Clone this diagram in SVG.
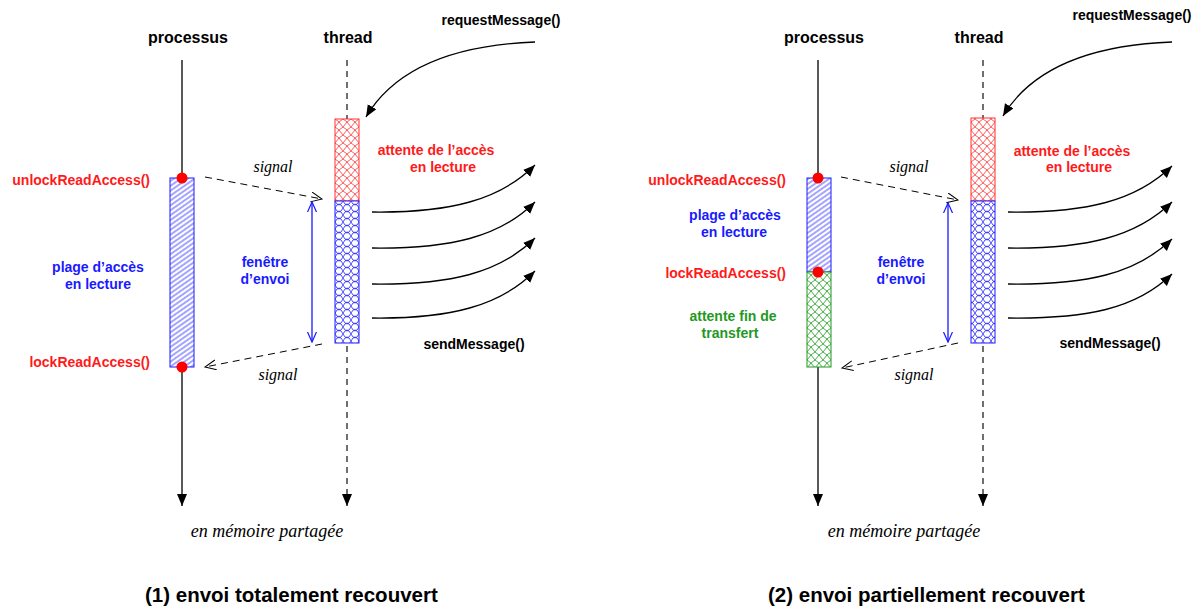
<svg xmlns="http://www.w3.org/2000/svg" width="1200" height="614" viewBox="0 0 1200 614">
<style>
.t{font-family:"Liberation Sans",Arial,Helvetica,sans-serif;font-weight:bold;font-size:14px}
.ti{font-family:"Liberation Sans",Arial,sans-serif;font-weight:bold;font-size:16px;fill:#000}
.cap{font-family:"Liberation Sans",Arial,sans-serif;font-weight:bold;font-size:20.5px;fill:#000}
.it{font-family:"Liberation Serif","Times New Roman",serif;font-style:italic;font-size:16px;fill:#000}
.itb{font-family:"Liberation Serif","Times New Roman",serif;font-style:italic;font-size:18px;fill:#000}
.red{fill:#ff1a1a}.blue{fill:#1a1aff}.green{fill:#1f991f}.blk{fill:#000}
.pline{stroke:#222;stroke-width:1.5;fill:none}
.tline{stroke:#222;stroke-width:1.3;stroke-dasharray:6,5;fill:none}
.sig{stroke:#000;stroke-width:1;stroke-dasharray:7,5;fill:none}
.curve{stroke:#000;stroke-width:1.3;fill:none}
.win{stroke:#1a1aff;stroke-width:1.3;fill:none}
</style>
<defs>
<pattern id="diag" width="4" height="4" patternUnits="userSpaceOnUse" patternTransform="rotate(-35)">
<rect width="4" height="4" fill="#fff"/>
<line x1="0" y1="2" x2="4" y2="2" stroke="#1a1aff" stroke-width="0.8"/>
</pattern>
<pattern id="xred" width="8" height="8" patternUnits="userSpaceOnUse" x="335" y="119">
<rect width="8" height="8" fill="#fff"/>
<path d="M0,0 Q4,2 8,8 M8,0 Q4,2 0,8" stroke="#ff3030" stroke-width="0.8" fill="none"/>
</pattern>
<pattern id="xgreen" width="8" height="8" patternUnits="userSpaceOnUse" x="807" y="272">
<rect width="8" height="8" fill="#fff"/>
<path d="M0,0 Q4,2 8,8 M8,0 Q4,2 0,8" stroke="#1f991f" stroke-width="0.8" fill="none"/>
</pattern>
<pattern id="scale" width="8" height="7" patternUnits="userSpaceOnUse" x="335" y="201">
<rect width="8" height="7" fill="#fff"/>
<path d="M0,0 Q4,8 8,0 M0,7 Q4,-1 8,7" stroke="#1a1aff" stroke-width="0.8" fill="none"/>
</pattern>
<marker id="tri" markerUnits="userSpaceOnUse" markerWidth="14" markerHeight="12" refX="12" refY="5" orient="auto">
<path d="M0,0 L12,5 L0,10 z" fill="#000"/>
</marker>
<marker id="vopen" markerUnits="userSpaceOnUse" markerWidth="14" markerHeight="12" refX="11" refY="5" orient="auto">
<path d="M0,0 L11,5 L0,10" fill="none" stroke="#000" stroke-width="1"/>
</marker>
<marker id="vblue" markerUnits="userSpaceOnUse" markerWidth="14" markerHeight="12" refX="10" refY="5" orient="auto-start-reverse">
<path d="M0,0.5 L10,5 L0,9.5" fill="none" stroke="#1a1aff" stroke-width="1.2"/>
</marker>
</defs>
<rect width="1200" height="614" fill="#fff"/>

<!-- ===== Panel 1 ===== -->
<g id="connectors-1">
<line class="pline" x1="182" y1="60" x2="182" y2="506" marker-end="url(#tri)"/>
<line class="tline" x1="347" y1="60" x2="347" y2="506" marker-end="url(#tri)"/>
<line class="sig" x1="205" y1="177" x2="322" y2="199" marker-end="url(#vopen)"/>
<line class="sig" x1="322" y1="344" x2="205" y2="367" marker-end="url(#vopen)"/>
<line class="win" x1="312" y1="202" x2="312" y2="342" marker-start="url(#vblue)" marker-end="url(#vblue)"/>
<path class="curve" d="M535,42 C455,45 395,68 366,117" marker-end="url(#tri)"/>
<path class="curve" d="M372,212 C450,213 500,200 535,165" marker-end="url(#tri)"/>
<path class="curve" d="M372,248 C450,249 500,237 535,202" marker-end="url(#tri)"/>
<path class="curve" d="M372,284 C450,285 500,273 535,238" marker-end="url(#tri)"/>
<path class="curve" d="M372,318 C450,319 500,306 535,271" marker-end="url(#tri)"/>
</g>
<g id="process-1">
<text class="ti" x="188" y="43" text-anchor="middle">processus</text>
<rect x="170" y="178" width="24" height="189" fill="url(#diag)" stroke="#1a1aff" stroke-width="1"/>
<circle cx="182" cy="178" r="5.5" fill="#ff0000"/>
<circle cx="182" cy="367" r="5.5" fill="#ff0000"/>
<text class="t red" x="150" y="185" text-anchor="end">unlockReadAccess()</text>
<text class="t red" x="150" y="367" text-anchor="end">lockReadAccess()</text>
<text class="t blue" x="98" y="272" text-anchor="middle">plage d’accès</text>
<text class="t blue" x="98" y="289" text-anchor="middle">en lecture</text>
</g>
<g id="thread-1">
<text class="ti" x="348" y="43" text-anchor="middle">thread</text>
<rect x="335" y="119" width="24" height="82" fill="url(#xred)" stroke="#ff3030" stroke-width="1"/>
<rect x="335" y="201" width="24" height="142" fill="url(#scale)" stroke="#1a1aff" stroke-width="1"/>
<text class="t red" x="436" y="155" text-anchor="middle">attente de l’accès</text>
<text class="t red" x="443" y="172" text-anchor="middle">en lecture</text>
<text class="t blk" x="501" y="25" text-anchor="middle">requestMessage()</text>
<text class="t blk" x="474" y="349" text-anchor="middle">sendMessage()</text>
</g>
<g id="labels-1">
<text class="it" x="273" y="172" text-anchor="middle">signal</text>
<text class="it" x="278" y="380" text-anchor="middle">signal</text>
<text class="t blue" x="265" y="267" text-anchor="middle">fenêtre</text>
<text class="t blue" x="265" y="284" text-anchor="middle">d’envoi</text>
<text class="itb" x="267" y="537" text-anchor="middle">en mémoire partagée</text>
<text class="cap" x="145" y="602">(1) envoi totalement recouvert</text>
</g>

<!-- ===== Panel 2 ===== -->
<g id="connectors-2">
<line class="pline" x1="818" y1="60" x2="818" y2="506" marker-end="url(#tri)"/>
<line class="tline" x1="983" y1="60" x2="983" y2="506" marker-end="url(#tri)"/>
<line class="sig" x1="841" y1="177" x2="958" y2="200" marker-end="url(#vopen)"/>
<line class="sig" x1="958" y1="343" x2="842" y2="368" marker-end="url(#vopen)"/>
<line class="win" x1="948" y1="203" x2="948" y2="342" marker-start="url(#vblue)" marker-end="url(#vblue)"/>
<path class="curve" d="M1172,42 C1092,45 1032,68 1003,116" marker-end="url(#tri)"/>
<path class="curve" d="M1008,212 C1086,213 1136,201 1172,166" marker-end="url(#tri)"/>
<path class="curve" d="M1008,248 C1086,249 1136,237 1172,202" marker-end="url(#tri)"/>
<path class="curve" d="M1008,284 C1086,285 1136,274 1172,239" marker-end="url(#tri)"/>
<path class="curve" d="M1008,318 C1086,319 1136,309 1172,274" marker-end="url(#tri)"/>
</g>
<g id="process-2">
<text class="ti" x="824" y="43" text-anchor="middle">processus</text>
<rect x="807" y="178" width="24" height="94" fill="url(#diag)" stroke="#1a1aff" stroke-width="1"/>
<rect x="807" y="272" width="24" height="95" fill="url(#xgreen)" stroke="#1f991f" stroke-width="1"/>
<circle cx="818" cy="178" r="5.5" fill="#ff0000"/>
<circle cx="818" cy="272" r="5.5" fill="#ff0000"/>
<text class="t red" x="786" y="185" text-anchor="end">unlockReadAccess()</text>
<text class="t red" x="786" y="278" text-anchor="end">lockReadAccess()</text>
<text class="t blue" x="735" y="220" text-anchor="middle">plage d’accès</text>
<text class="t blue" x="734" y="237" text-anchor="middle">en lecture</text>
<text class="t green" x="733" y="321" text-anchor="middle">attente fin de</text>
<text class="t green" x="730" y="338" text-anchor="middle">transfert</text>
</g>
<g id="thread-2">
<text class="ti" x="979" y="43" text-anchor="middle">thread</text>
<rect x="971" y="118" width="24" height="83" fill="url(#xred)" stroke="#ff3030" stroke-width="1"/>
<rect x="971" y="201" width="24" height="142" fill="url(#scale)" stroke="#1a1aff" stroke-width="1"/>
<text class="t red" x="1072" y="156" text-anchor="middle">attente de l’accès</text>
<text class="t red" x="1079" y="172" text-anchor="middle">en lecture</text>
<text class="t blk" x="1132" y="20" text-anchor="middle">requestMessage()</text>
<text class="t blk" x="1110" y="348" text-anchor="middle">sendMessage()</text>
</g>
<g id="labels-2">
<text class="it" x="909" y="172" text-anchor="middle">signal</text>
<text class="it" x="914" y="380" text-anchor="middle">signal</text>
<text class="t blue" x="901" y="267" text-anchor="middle">fenêtre</text>
<text class="t blue" x="901" y="284" text-anchor="middle">d’envoi</text>
<text class="itb" x="904" y="537" text-anchor="middle">en mémoire partagée</text>
<text class="cap" x="768" y="602">(2) envoi partiellement recouvert</text>
</g>
</svg>
